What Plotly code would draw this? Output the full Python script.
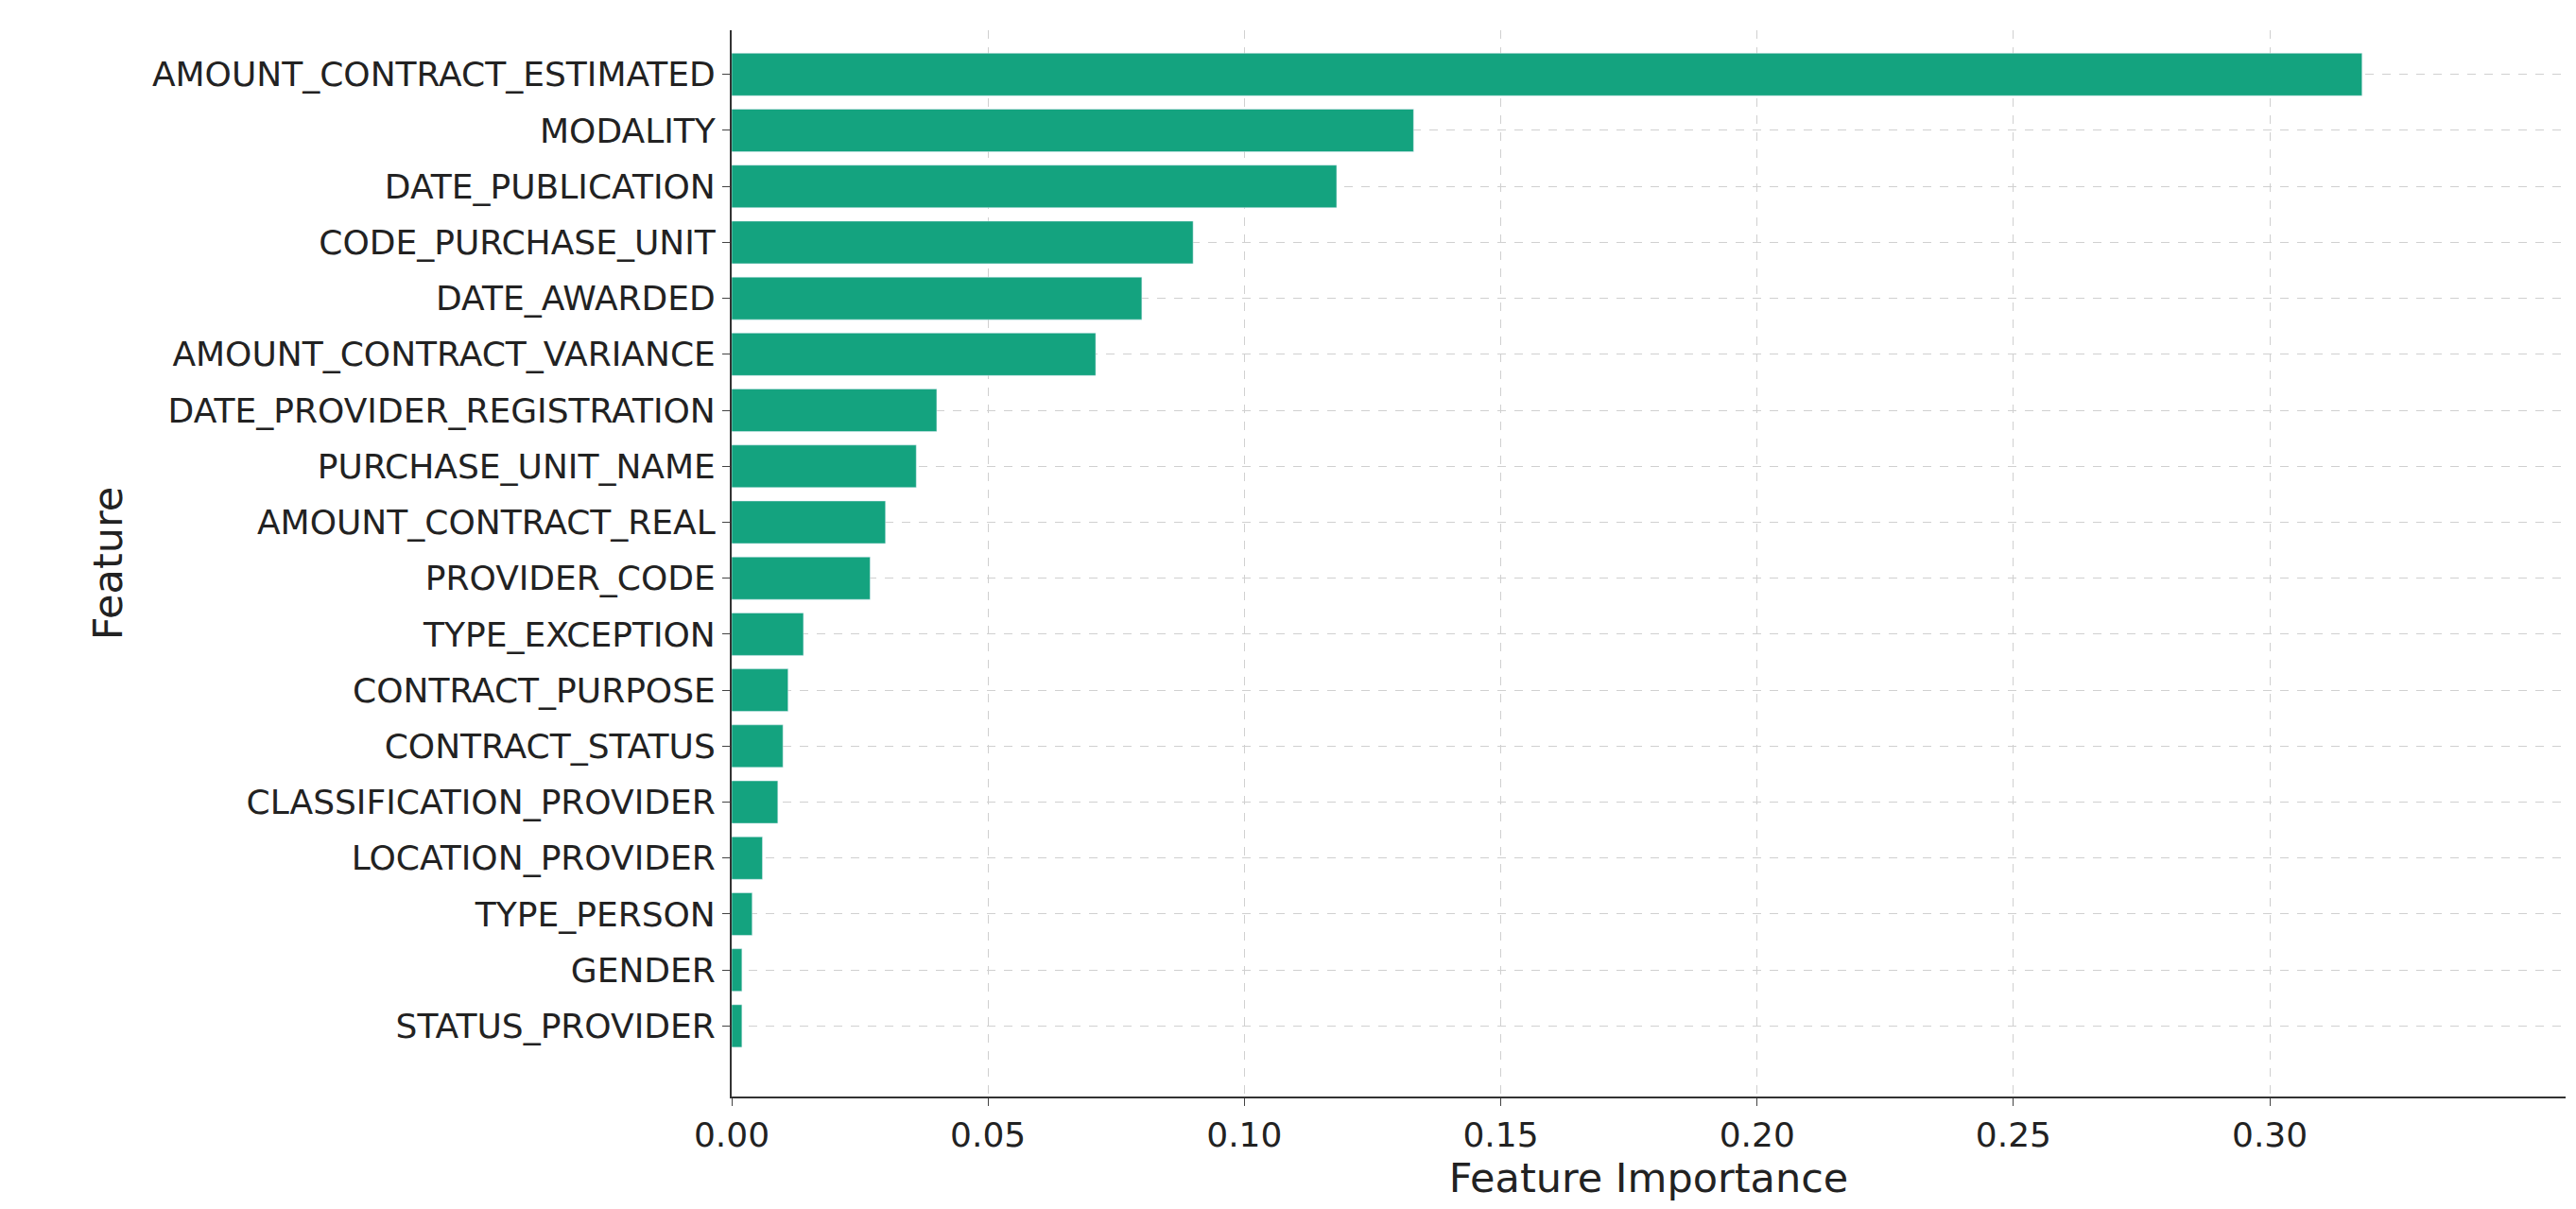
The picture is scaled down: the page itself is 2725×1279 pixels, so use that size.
import plotly.graph_objects as go

features = ["AMOUNT_CONTRACT_ESTIMATED","MODALITY","DATE_PUBLICATION","CODE_PURCHASE_UNIT",
            "DATE_AWARDED","AMOUNT_CONTRACT_VARIANCE","DATE_PROVIDER_REGISTRATION","PURCHASE_UNIT_NAME",
            "AMOUNT_CONTRACT_REAL","PROVIDER_CODE","TYPE_EXCEPTION","CONTRACT_PURPOSE","CONTRACT_STATUS",
            "CLASSIFICATION_PROVIDER","LOCATION_PROVIDER","TYPE_PERSON","GENDER","STATUS_PROVIDER"]
importance = [0.318,0.133,0.118,0.090,0.080,0.071,0.040,0.036,0.030,0.027,0.014,0.011,0.010,0.009,0.006,0.004,0.002,0.002]
xticks = [0.0,0.05,0.10,0.15,0.20,0.25,0.30]

fig = go.Figure(go.Bar(x=importance, y=features, orientation="h", marker_color="#14a37f", width=0.76))
fig.update_layout(
    width=2725, height=1279, plot_bgcolor="white", paper_bgcolor="white",
    margin=dict(l=766, r=19, t=24, b=127),
    font=dict(family="DejaVu Sans", size=36, color="#222"),
    showlegend=False,
)
fig.update_xaxes(range=[0, 0.3577], tickvals=xticks, ticktext=[f"{v:.2f}" for v in xticks],
                 showgrid=True, gridcolor="#d0d0d0", griddash="dash", gridwidth=1,
                 showline=True, linecolor="#333", linewidth=2, ticks="outside", ticklen=8,
                 title=dict(text="Feature Importance", standoff=8), zeroline=False)
fig.update_yaxes(range=[18.26, -0.79], showgrid=True, gridcolor="#d0d0d0", griddash="dash", gridwidth=1,
                 showline=True, linecolor="#333", linewidth=2, ticks="outside", ticklen=8,
                 title=dict(text="Feature", standoff=18))
fig.write_html("out.html")
